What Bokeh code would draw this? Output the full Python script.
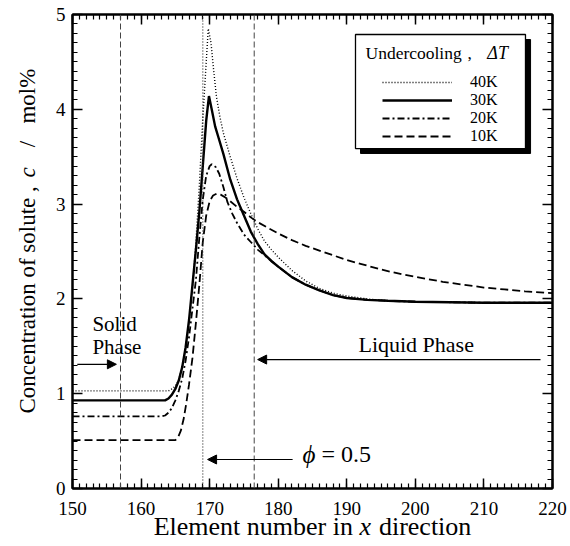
import math
from bokeh.plotting import figure
from bokeh.models import (Range1d, LinearAxis, SingleIntervalTicker, Span, Arrow,
                          NormalHead, Label, BoxAnnotation, Legend, LegendItem,
                          CustomJSTickFormatter)
from bokeh.embed import file_html
from bokeh.resources import INLINE

# ---------------- data ----------------
x_40K = [150, 164, 164.5, 165, 165.5, 166, 166.5, 167, 167.5, 168, 168.5, 169, 169.5, 169.8,
         170.2, 170.6, 171, 171.5, 172, 173, 174, 175, 176, 177, 178, 179, 180, 182, 184,
         186, 188, 190, 193, 196, 200, 210, 220]
c_40K = [1.03, 1.03, 1.05, 1.08, 1.15, 1.28, 1.48, 1.76, 2.12, 2.6, 3.2, 3.9, 4.5, 4.85,
         4.7, 4.4, 4.13, 3.92, 3.75, 3.5, 3.27, 3.07, 2.9, 2.74, 2.61, 2.52, 2.44, 2.3, 2.19,
         2.11, 2.06, 2.03, 2.0, 1.98, 1.97, 1.96, 1.96]

x_30K = [150, 163.5, 164, 164.5, 165, 165.5, 166, 166.5, 167, 167.5, 168, 168.5, 169, 169.5,
         169.9, 170.3, 170.8, 171.3, 172, 173, 174, 175, 176, 177, 178, 179, 180, 182, 184,
         186, 188, 190, 193, 196, 200, 210, 220]
c_30K = [0.93, 0.93, 0.95, 0.99, 1.05, 1.14, 1.28, 1.49, 1.78, 2.15, 2.52, 2.92, 3.4, 3.88,
         4.14, 4.0, 3.82, 3.7, 3.53, 3.26, 3.05, 2.88, 2.71, 2.58, 2.47, 2.4, 2.34, 2.23, 2.15,
         2.09, 2.04, 2.01, 1.99, 1.98, 1.97, 1.96, 1.96]

x_20K = [150, 163, 163.5, 164, 164.5, 165, 165.5, 166, 166.5, 167, 167.5, 168, 168.5, 169,
         169.5, 170, 170.3, 170.9, 171.4, 172, 172.6, 173.3, 174, 175, 176, 177, 178, 179,
         180, 182, 184, 186, 188, 190, 193, 196, 200, 210, 220]
c_20K = [0.76, 0.76, 0.77, 0.8, 0.85, 0.93, 1.03, 1.16, 1.35, 1.6, 1.9, 2.2, 2.65, 3.05,
         3.3, 3.4, 3.42, 3.39, 3.32, 3.18, 3.02, 2.9, 2.8, 2.68, 2.6, 2.52, 2.46, 2.4,
         2.34, 2.23, 2.15, 2.09, 2.04, 2.01, 1.99, 1.98, 1.97, 1.96, 1.96]

x_10K = [150, 165, 165.4, 165.8, 166.2, 166.6, 167, 167.5, 168, 168.5, 169, 169.5, 170,
         170.5, 171, 171.6, 172.3, 173, 174, 175, 176, 177, 178.5, 180, 182, 184, 186, 188,
         190, 192, 195, 198, 201, 204, 207, 210, 213, 216, 220]
c_10K = [0.51, 0.51, 0.54, 0.61, 0.73, 0.9, 1.1, 1.38, 1.75, 2.15, 2.6, 2.88, 3.03, 3.09,
         3.11, 3.1, 3.07, 3.03, 2.97, 2.92, 2.86, 2.81, 2.75, 2.69, 2.62, 2.56, 2.51, 2.46,
         2.41, 2.37, 2.31, 2.26, 2.22, 2.18, 2.15, 2.12, 2.1, 2.08, 2.06]

series_labels = ["40K", "30K", "20K", "10K"]
phase_boundaries = [157, 176.5]   # dashed vertical lines
interface_x = 169                 # dotted vertical line (phi = 0.5)

FONT = "'Liberation Serif'"
NB = "\u00a0"

p = figure(width=570, height=546, x_range=Range1d(150, 220), y_range=Range1d(0, 5),
           output_backend="svg", toolbar_location=None,
           min_border_left=72, min_border_right=18, min_border_top=14, min_border_bottom=58)
p.xgrid.visible = False
p.ygrid.visible = False
p.outline_line_color = "black"
p.outline_line_width = 2
p.background_fill_color = "white"
p.border_fill_color = "white"

def style_axis(ax, show_labels=True):
    ax.axis_line_width = 2
    ax.axis_line_color = "black"
    ax.major_tick_in = 10
    ax.major_tick_out = 0
    ax.minor_tick_in = 5
    ax.minor_tick_out = 0
    ax.major_tick_line_width = 1.5
    ax.minor_tick_line_width = 1.2
    ax.major_tick_line_color = "black"
    ax.minor_tick_line_color = "black"
    ax.major_label_text_font = FONT
    ax.major_label_text_color = "black"
    if show_labels:
        ax.major_label_text_font_size = "19px"
    else:
        ax.formatter = CustomJSTickFormatter(code="return ''")
        ax.major_label_text_font_size = "1px"
        ax.major_label_standoff = 0

xa = p.xaxis[0]
xa.ticker = SingleIntervalTicker(interval=10, num_minor_ticks=10)
style_axis(xa)
xa.major_label_standoff = 13
xa.axis_label = "Element number in" + NB * 4 + "direction"
xa.axis_label_text_font = FONT
xa.axis_label_text_font_style = "normal"
xa.axis_label_text_font_size = "26px"
xa.axis_label_text_color = "black"
xa.axis_label_standoff = -6

ya = p.yaxis[0]
ya.ticker = SingleIntervalTicker(interval=1, num_minor_ticks=10)
style_axis(ya)
ya.major_label_standoff = 7

top = LinearAxis(ticker=SingleIntervalTicker(interval=10, num_minor_ticks=10))
style_axis(top, False)
p.add_layout(top, "above")
right = LinearAxis(ticker=SingleIntervalTicker(interval=1, num_minor_ticks=10))
style_axis(right, False)
p.add_layout(right, "right")

# reference vertical lines
for xb in phase_boundaries:
    p.add_layout(Span(location=xb, dimension="height", line_color="#444444",
                      line_width=1, line_dash="6 3"))
p.add_layout(Span(location=interface_x, dimension="height", line_color="#333333",
                  line_width=1.2, line_dash="1 2"))

# curves
r40 = p.line(x_40K, c_40K, line_color="black", line_width=1.4, line_dash="1 2")
r30 = p.line(x_30K, c_30K, line_color="black", line_width=2.4)
r20 = p.line(x_20K, c_20K, line_color="black", line_width=1.8, line_dash="7 3 2 3")
r10 = p.line(x_10K, c_10K, line_color="black", line_width=1.8, line_dash="8 4")

# legend frame with shadow
p.add_layout(BoxAnnotation(left=192.0, right=216.8, top=4.736, bottom=3.534,
                           fill_color="black", fill_alpha=1, line_color="black", line_alpha=1))
p.add_layout(BoxAnnotation(left=191.27, right=216.06, top=4.789, bottom=3.586,
                           fill_color="white", fill_alpha=1, line_color="black",
                           line_width=1.3, line_alpha=1))

legend = Legend(items=[LegendItem(label=lab, renderers=[r])
                       for lab, r in zip(series_labels, [r40, r30, r20, r10])],
                location=(310, 343), glyph_width=70, glyph_height=16, label_height=16,
                spacing=0, label_standoff=18, padding=0, margin=0,
                border_line_alpha=0, background_fill_alpha=0,
                label_text_font=FONT, label_text_font_size="16px",
                label_text_color="black")
p.add_layout(legend)

TXT = dict(text_font=FONT, text_color="black", text_baseline="alphabetic")
p.add_layout(Label(x=192.73, y=4.59, text="Undercooling", text_font_size="17.5px", **TXT))
p.add_layout(Label(x=207.6, y=4.59, text=",", text_font_size="17.5px", **TXT))
p.add_layout(Label(x=210.5, y=4.59, text="ΔT", text_font_style="italic",
                   text_font_size="18px", **TXT))

# annotations
head = dict(size=9, fill_color="black", line_color="black", line_width=1)
p.add_layout(Arrow(end=NormalHead(**head), x_start=150.7, y_start=1.31, x_end=156.4, y_end=1.31,
                   line_color="black", line_width=1.2))
p.add_layout(Arrow(end=NormalHead(**head), x_start=218.25, y_start=1.36, x_end=177.0, y_end=1.36,
                   line_color="black", line_width=1.2))
p.add_layout(Arrow(end=NormalHead(**head), x_start=182.1, y_start=0.306, x_end=169.7, y_end=0.306,
                   line_color="black", line_width=1.2))

p.add_layout(Label(x=152.9, y=1.73, text="Solid", text_font_size="21px", **TXT))
p.add_layout(Label(x=152.9, y=1.49, text="Phase", text_font_size="21px", **TXT))
p.add_layout(Label(x=191.7, y=1.52, text="Liquid Phase", text_font_size="22px", **TXT))
p.add_layout(Label(x=183.54, y=0.36, text="ϕ", text_font_style="italic",
                   text_font_size="25px", **TXT))
p.add_layout(Label(x=186.3, y=0.36, text="= 0.5", text_font_size="24px", **TXT))

# y-axis title pieces (rotated), kept in side panels so they are drawn outside the frame
yl = dict(angle=math.pi / 2, text_font=FONT, text_color="black", text_font_size="23px",
          text_baseline="middle", text_align="left")
p.add_layout(Label(x=143.44, y=0.79, text="Concentration of solute ,", **yl), "left")
p.add_layout(Label(x=143.44, y=3.60, text="/" + NB * 3 + "mol%", **yl), "left")
p.add_layout(Label(x=143.44, y=3.28, text="c", text_font_style="italic", **yl), "above")
# italic x of the x-axis title (centred anchor so a panel rotation does not move it)
p.add_layout(Label(x=192.7, y=-0.40, text="x", text_font=FONT, text_color="black",
                   text_font_style="italic", text_font_size="26px",
                   text_baseline="middle", text_align="center"), "right")

open("out.html", "w").write(file_html(p, INLINE))
